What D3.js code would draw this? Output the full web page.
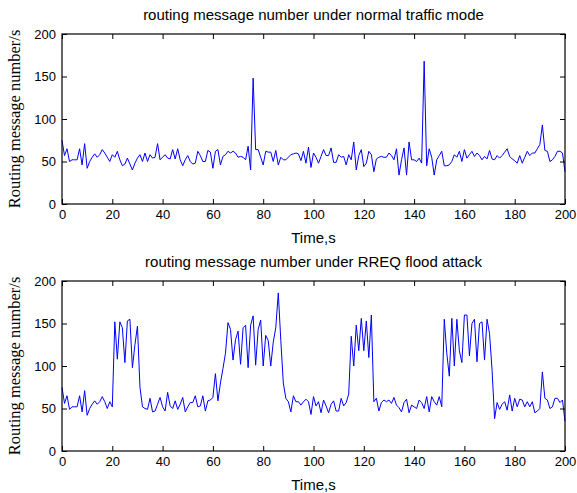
<!DOCTYPE html>
<html>
<head>
<meta charset="utf-8">
<script src="https://cdn.jsdelivr.net/npm/d3@7"></script>
<style>
  body { margin: 0; background: #fff; }
  .axis text { font-family: "Liberation Sans", Arial, sans-serif; font-size: 13px; fill: #000; }
  .axis path, .axis line { stroke: #000; }
</style>
</head>
<body>
<div id="chart"></div>
<script>
// routing messages per second, one sample per second (t = 0..200)
const normalTraffic = [
  75, 57, 65, 50, 52, 52, 52, 65, 46, 71,
  42, 50, 55, 59, 55, 58, 64, 60, 55, 50,
  58, 55, 62, 52, 45, 47, 54, 47, 40, 48,
  54, 58, 50, 60, 50, 58, 54, 55, 71, 52,
  55, 58, 54, 53, 64, 53, 65, 52, 45, 52,
  57, 50, 47, 48, 62, 57, 50, 50, 63, 61,
  42, 62, 64, 46, 56, 58, 62, 60, 62, 60,
  55, 56, 55, 52, 68, 40, 148, 64, 64, 55,
  46, 62, 61, 61, 50, 63, 46, 55, 52, 52,
  55, 58, 59, 60, 59, 51, 62, 48, 67, 43,
  60, 55, 48, 56, 64, 57, 57, 66, 49, 49,
  58, 55, 56, 46, 58, 52, 73, 40, 57, 64,
  44, 48, 62, 58, 38, 53, 55, 56, 55, 55,
  60, 57, 52, 65, 34, 52, 66, 34, 73, 52,
  52, 50, 54, 48, 168, 45, 65, 55, 34, 52,
  57, 62, 45, 45, 46, 50, 58, 55, 62, 50,
  64, 54, 58, 62, 56, 60, 57, 52, 56, 53,
  63, 53, 52, 57, 54, 57, 61, 65, 56, 53,
  51, 48, 57, 48, 55, 62, 57, 60, 60, 65,
  70, 93, 63, 62, 50, 52, 56, 62, 62, 60,
  38
];

const floodAttack = [
  75, 56, 65, 49, 52, 52, 52, 65, 46, 71,
  42, 50, 55, 59, 55, 58, 64, 58, 50, 58,
  52, 152, 108, 152, 145, 104, 153, 155, 98, 125,
  147, 75, 52, 50, 49, 62, 46, 47, 55, 63,
  52, 47, 69, 53, 50, 59, 49, 55, 63, 46,
  52, 57, 57, 65, 52, 53, 65, 47, 59, 60,
  63, 91, 59, 80, 97, 115, 151, 143, 107, 131,
  141, 102, 145, 148, 98, 148, 159, 101, 143, 154,
  100, 136, 130, 100, 128, 145, 186, 130, 80, 62,
  58, 46, 65, 58, 58, 54, 58, 61, 58, 43,
  64, 53, 58, 45, 60, 53, 45, 55, 59, 47,
  47, 62, 53, 57, 67, 135, 100, 148, 118, 156,
  118, 153, 110, 160, 58, 62, 47, 57, 60, 58,
  60, 56, 63, 54, 51, 46, 57, 61, 45, 54,
  52, 50, 60, 57, 50, 64, 46, 64, 58, 54,
  64, 52, 155, 115, 88, 156, 100, 155, 118, 104,
  160, 160, 112, 150, 155, 105, 150, 152, 107, 155,
  138, 95, 38, 57, 49, 55, 58, 48, 66, 47,
  62, 52, 61, 60, 52, 58, 52, 58, 45, 47,
  50, 93, 62, 60, 50, 52, 62, 62, 57, 60,
  35
];

const panels = [
  { title: 'routing message number under normal traffic mode', values: normalTraffic, top: 34 },
  { title: 'routing message number under RREQ flood attack', values: floodAttack, top: 281 }
];

const xTicks = [0, 20, 40, 60, 80, 100, 120, 140, 160, 180, 200];
const yTicks = [0, 50, 100, 150, 200];
const xLabel = 'Time,s';
const yLabel = 'Routing message number/s';

const W = 577, H = 493;
const left = 62, right = 565, plotH = 170;

const svg = d3.select('#chart').append('svg')
  .attr('width', W)
  .attr('height', H);

const x = d3.scaleLinear().domain([0, 200]).range([0, right - left]);
const y = d3.scaleLinear().domain([0, 200]).range([plotH, 0]);

const line = d3.line()
  .x((d, i) => x(i))
  .y(d => y(d));

panels.forEach(p => {
  const g = svg.append('g').attr('transform', `translate(${left},${p.top})`);
  const w = right - left;

  // title
  svg.append('text')
    .attr('x', (left + right) / 2)
    .attr('y', p.top - 14)
    .attr('text-anchor', 'middle')
    .style('font-family', '"Liberation Sans", Arial, sans-serif')
    .style('font-size', '15px')
    .text(p.title);

  // data line
  g.append('path')
    .datum(p.values)
    .attr('fill', 'none')
    .attr('stroke', '#0000ff')
    .attr('stroke-width', 1)
    .attr('d', line);

  // axes with inward ticks
  g.append('g').attr('class', 'axis')
    .attr('transform', `translate(0,${plotH})`)
    .call(d3.axisBottom(x).tickValues(xTicks).tickSizeInner(-5).tickSizeOuter(0).tickPadding(6))
    .call(a => a.select('.domain').remove());
  g.append('g').attr('class', 'axis')
    .call(d3.axisLeft(y).tickValues(yTicks).tickSizeInner(-5).tickSizeOuter(0).tickPadding(6))
    .call(a => a.select('.domain').remove());
  g.append('g').attr('class', 'axis')
    .call(d3.axisTop(x).tickValues(xTicks).tickSizeInner(-5).tickSizeOuter(0).tickFormat(''))
    .call(a => a.select('.domain').remove());
  g.append('g').attr('class', 'axis')
    .attr('transform', `translate(${w},0)`)
    .call(d3.axisRight(y).tickValues(yTicks).tickSizeInner(-5).tickSizeOuter(0).tickFormat(''))
    .call(a => a.select('.domain').remove());

  // frame
  g.append('rect')
    .attr('width', w)
    .attr('height', plotH)
    .attr('fill', 'none')
    .attr('stroke', '#000')
    .attr('stroke-width', 1.2);

  // axis labels
  svg.append('text')
    .attr('x', (left + right) / 2)
    .attr('y', p.top + plotH + 39)
    .attr('text-anchor', 'middle')
    .style('font-family', '"Liberation Sans", Arial, sans-serif')
    .style('font-size', '15px')
    .text(xLabel);

  svg.append('text')
    .attr('transform', `translate(20,${p.top + plotH / 2}) rotate(-90)`)
    .attr('text-anchor', 'middle')
    .style('font-family', '"Liberation Serif", "Times New Roman", serif')
    .style('font-size', '16.5px')
    .text(yLabel);
});
</script>
</body>
</html>
